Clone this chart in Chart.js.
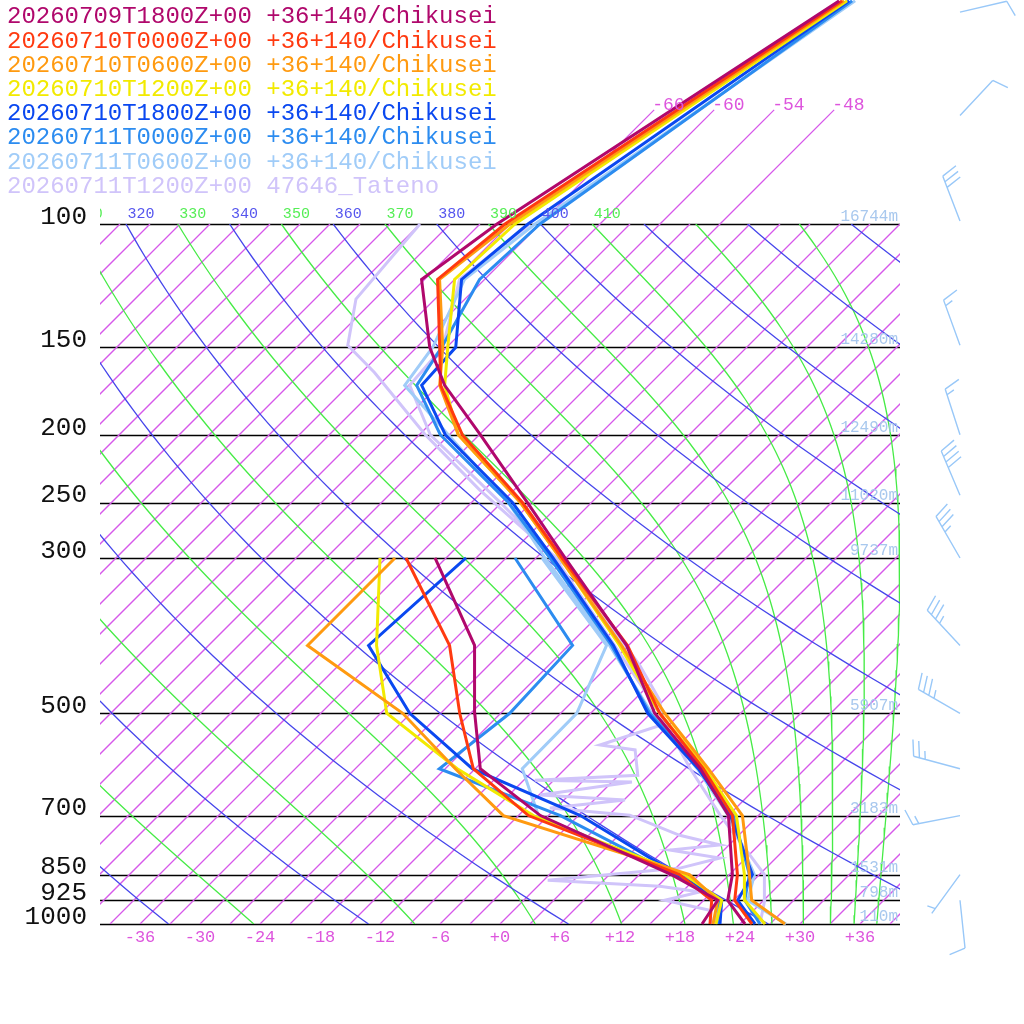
<!DOCTYPE html>
<html>
<head>
<meta charset="utf-8">
<script src="https://cdn.jsdelivr.net/npm/chart.js@4"></script>
<style>
  body { margin: 0; background: #fff; }
  #wrap { width: 1024px; height: 1024px; }
</style>
</head>
<body>
<div id="wrap"><canvas id="skewt" width="1024" height="1024"></canvas></div>
<script>
// ---- data ----
const seriesNames = [
  '20260709T1800Z+00 +36+140/Chikusei',
  '20260710T0000Z+00 +36+140/Chikusei',
  '20260710T0600Z+00 +36+140/Chikusei',
  '20260710T1200Z+00 +36+140/Chikusei',
  '20260710T1800Z+00 +36+140/Chikusei',
  '20260711T0000Z+00 +36+140/Chikusei',
  '20260711T0600Z+00 +36+140/Chikusei',
  '20260711T1200Z+00 47646_Tateno'
];
const seriesColors = ['#b0086c', '#ff3a10', '#ff9a10', '#f2ea00', '#0a48f0', '#2c8cf0', '#a0ccf8', '#d0c4fa'];

// temperature levels (hPa) and values (C)
const tempLevels = [1000, 925, 850, 700, 600, 500, 400, 300, 250, 200, 170, 150, 120, 100, 48];
const temps = [
  [24.5, 20.4, 18.3, 12.0, 4.5, -5.6, -15.2, -30.1, -39.4, -50.9, -59.4, -64.7, -72.3, -70.3, -58.4],
  [25.2, 21.1, 18.8, 12.4, 4.8, -5.1, -15.1, -30.4, -39.9, -52.7, -59.8, -63.7, -70.7, -69.5, -58.1],
  [28.5, 22.8, 20.0, 13.4, 5.3, -4.6, -15.7, -30.6, -40.1, -53.1, -59.9, -63.4, -70.5, -69.0, -57.9],
  [26.5, 22.1, 19.5, 12.8, 5.0, -5.1, -15.9, -30.6, -40.1, -53.1, -59.4, -62.9, -69.0, -68.5, -57.6],
  [25.5, 21.4, 20.3, 12.2, 4.3, -6.3, -16.5, -31.3, -40.9, -54.4, -61.7, -62.1, -68.3, -67.2, -57.4],
  [26.0, 22.1, 20.0, 12.5, 4.5, -6.1, -16.7, -31.6, -41.3, -54.9, -62.2, -63.5, -66.5, -66.0, -57.1],
  [28.6, 22.4, 20.5, 12.0, 4.2, -5.9, -16.9, -32.1, -41.3, -54.1, -63.4, -64.4, -68.0, -66.5, -56.8],
  [26.0, 24.1, 21.5, 11.2, 3.5, -5.1, -16.4, -31.1, -42.1, -55.9, -62.9, -63.4, -68.5, -67.0, null]
];

// dewpoint levels (hPa) and values (C) for the model series
const dewLevels = [1000, 925, 850, 700, 600, 500, 400, 300];
const dews = [
  [20.2, 19.4, 12.2, -6.8, -17.5, -23.6, -30.4, -43.1],
  [21.0, 18.8, 13.0, -8.0, -18.2, -25.1, -32.9, -46.0],
  [21.3, 19.4, 14.0, -10.5, -20.0, -30.8, -47.1, -47.1],
  [21.6, 19.8, 13.5, -7.5, -19.8, -32.4, -40.2, -48.6],
  [22.0, 19.8, 12.8, -2.8, -18.3, -30.1, -41.0, -40.0],
  [21.8, 19.6, 12.5, -4.8, -21.6, -20.1, -20.6, -35.1],
  [21.5, 19.4, 12.6, -7.0, -13.3, -13.4, -17.2, -32.4]
];
// Tateno observed dewpoint (own levels)
const tatenoDewLevels = [1000, 956, 925, 900, 883, 866, 832, 805, 784, 771, 747, 699, 683, 665, 654, 627, 623, 613, 564, 555, 519, 479, 427, 356, 312, 278, 240, 200, 163, 149, 128, 100];
const tatenoDews = [21.2, 19.6, 14.1, 16.8, 12.2, 0.4, 12.4, 15.4, 9.6, 14.1, 9.1, 2.1, -6.6, 0.1, -8.9, -1.0, -10.9, -1.1, -3.9, -7.9, -3.7, -6.4, -11.9, -21.4, -28.4, -35.9, -45.4, -56.4, -67.7, -73.1, -76.9, -78.0];

const pressureLevels = [100, 150, 200, 250, 300, 500, 700, 850, 925, 1000];
const heightLabels = ['16744m', '14280m', '12490m', '11020m', '9737m', '5907m', '3183m', '1531m', '798m', '110m'];
const tempTicks = [-36, -30, -24, -18, -12, -6, 0, 6, 12, 18, 24, 30, 36];
const dryThetas = [200, 220, 240, 260, 280, 300, 320, 340, 360, 380, 400, 420, 440, 460, 480, 500];
const moistThetas = [230, 250, 270, 290, 310, 330, 350, 370, 390, 410, 430, 450, 470, 490];
const isoTemps = [];
for (let t = -108; t <= 39; t += 3) isoTemps.push(t);
const isoLabelTemps = [-66, -60, -54, -48];

// wind barbs: pressure, direction of staff (deg), speed (kt)
const windLevels = [49.8, 70, 99, 149, 200, 244, 300, 400, 500, 600, 700, 850, 925];
const windDirs = [77, 43, 339, 340, 342, 337, 330, 317, 300, 285, 259, 216, 174];
const windSpeeds = [10, 10, 30, 15, 15, 40, 35, 35, 35, 25, 15, 5, 10];

// ---- helpers ----
const SKEW = 70;
const skewX = (t, p) => t + SKEW * Math.log10(1000 / p);
const profile = (levels, vals) => levels.map((p, i) => ({ x: vals[i] == null ? null : skewX(vals[i], p), y: p }));

function dryLine(theta) {
  const pts = [];
  for (let i = 0; i <= 60; i++) {
    const p = 1000 * Math.pow(0.1, i / 60);
    pts.push({ x: skewX(theta * Math.pow(p / 1000, 0.2857) - 273.15, p), y: p });
  }
  return pts;
}

function moistRate(T, p) {
  const Tc = T - 273.15;
  const es = 6.112 * Math.exp(17.67 * Tc / (Tc + 243.5));
  const rs = 0.622 * es / (p - es);
  const Rd = 287.04, cp = 1005.7, L = 2.501e6;
  return (Rd * T + L * rs) / (cp + L * L * rs * 0.622 / (Rd * T * T)); // dT/dlnp
}

function moistLine(thetaE) {
  let T = thetaE * Math.pow(0.1, 0.2857);
  let p = 100;
  const n = 80, dlnp = Math.log(10) / n;
  const pts = [{ x: skewX(T - 273.15, p), y: p }];
  for (let i = 0; i < n; i++) {
    const k1 = moistRate(T, p);
    const pm = p * Math.exp(dlnp / 2);
    const k2 = moistRate(T + k1 * dlnp / 2, pm);
    T += k2 * dlnp;
    p = p * Math.exp(dlnp);
    pts.push({ x: skewX(T - 273.15, p), y: p });
  }
  return pts;
}

// ---- datasets ----
const datasets = [];
const bg = (data, color) => ({
  data, borderColor: color, backgroundColor: color,
  borderWidth: 1.3, showLine: true, pointRadius: 0, order: 20, clip: 0
});
dryThetas.forEach(th => datasets.push(bg(dryLine(th), '#4646eb')));
moistThetas.forEach(th => datasets.push(bg(moistLine(th), '#46eb46')));

seriesNames.forEach((name, i) => {
  const line = (data) => ({ data, borderColor: seriesColors[i], backgroundColor: seriesColors[i], borderWidth: 3, showLine: true, pointRadius: 0, order: 1 + i * 0.01, clip: false, spanGaps: false });
  datasets.push(line(profile(tempLevels, temps[i])));
  if (i < dews.length) datasets.push(line(profile(dewLevels, dews[i])));
  else datasets.push(line(profile(tatenoDewLevels, tatenoDews)));
});

// ---- decorations drawn with the scales ----
const decor = {
  id: 'decor',
  beforeDatasetsDraw(chart) {
    const { ctx, scales: { x, y } } = chart;
    ctx.save();
    ctx.strokeStyle = '#000';
    ctx.lineWidth = 1.3;
    pressureLevels.forEach(p => {
      const py = Math.round(y.getPixelForValue(p)) + 0.5;
      ctx.beginPath(); ctx.moveTo(x.left, py); ctx.lineTo(x.right, py); ctx.stroke();
    });
    // isotherms
    ctx.strokeStyle = '#d658ea';
    ctx.lineWidth = 1.3;
    const seg = (t, p0, p1) => {
      ctx.beginPath();
      ctx.moveTo(x.getPixelForValue(skewX(t, p0)), y.getPixelForValue(p0));
      ctx.lineTo(x.getPixelForValue(skewX(t, p1)), y.getPixelForValue(p1));
      ctx.stroke();
    };
    isoLabelTemps.forEach(t => seg(t, 100, 68.7));
    ctx.beginPath(); ctx.rect(x.left, y.top, x.right - x.left, y.bottom - y.top); ctx.clip();
    isoTemps.forEach(t => seg(t, 1000, 100));
    ctx.restore();
  },
  afterDraw(chart) {
    const { ctx, scales: { x, y } } = chart;
    ctx.save();
    // pressure labels
    ctx.fillStyle = '#111';
    ctx.font = '26px "Liberation Mono", monospace';
    ctx.textAlign = 'right';
    ctx.textBaseline = 'middle';
    pressureLevels.forEach(p => ctx.fillText(String(p), 87, y.getPixelForValue(p) - 7));
    // heights
    ctx.fillStyle = '#a8c8ee';
    ctx.font = '16px "Liberation Mono", monospace';
    ctx.textBaseline = 'alphabetic';
    pressureLevels.forEach((p, i) => ctx.fillText(heightLabels[i], x.right - 2, y.getPixelForValue(p) - 3));
    // temperature ticks
    ctx.fillStyle = '#dd55dd';
    ctx.font = '17px "Liberation Mono", monospace';
    ctx.textAlign = 'center';
    ctx.textBaseline = 'middle';
    tempTicks.forEach(t => ctx.fillText((t < 0 ? '-' : '+') + Math.abs(t), x.getPixelForValue(t), y.bottom + 13));
    // isotherm labels above 100 hPa
    ctx.font = '18px "Liberation Mono", monospace';
    ctx.textAlign = 'left';
    ctx.textBaseline = 'alphabetic';
    isoLabelTemps.forEach(t => ctx.fillText(String(t), x.getPixelForValue(skewX(t, 68.7)) - 2, y.getPixelForValue(68.7)));
    // adiabat labels at 100 hPa
    ctx.save();
    ctx.beginPath(); ctx.rect(x.left, 0, x.right - x.left, y.top); ctx.clip();
    ctx.font = '15px "Liberation Mono", monospace';
    ctx.textAlign = 'center';
    const thetaLab = (th, color) => {
      const px = x.getPixelForValue(skewX(th * Math.pow(0.1, 0.2857) - 273.15, 100)) + 15;
      if (th <= 410) { ctx.fillStyle = color; ctx.fillText(String(th), px, y.top - 6); }
    };
    dryThetas.forEach(th => thetaLab(th, '#5555ee'));
    moistThetas.forEach(th => thetaLab(th, '#55ee55'));
    ctx.restore();
    // legend
    ctx.font = '24px "Liberation Mono", monospace';
    ctx.textAlign = 'left';
    ctx.textBaseline = 'middle';
    seriesNames.forEach((n, i) => { ctx.fillStyle = seriesColors[i]; ctx.fillText(n, 7, 17 + i * 24.2); });
    // wind barbs
    ctx.strokeStyle = '#99c8f8';
    ctx.lineWidth = 1.4;
    windLevels.forEach((p, i) => {
      const bx = 960, by = y.getPixelForValue(p);
      const a = windDirs[i] * Math.PI / 180;
      const ux = Math.sin(a), uy = -Math.cos(a);
      const vx = -uy, vy = ux;
      const L = 48;
      ctx.beginPath();
      ctx.moveTo(bx, by); ctx.lineTo(bx + ux * L, by + uy * L);
      let s = windSpeeds[i], d = L;
      while (s >= 10) {
        const sx = bx + ux * d, sy = by + uy * d;
        ctx.moveTo(sx, sy); ctx.lineTo(sx + vx * 16 + ux * 5, sy + vy * 16 + uy * 5);
        s -= 10; d -= 6;
      }
      if (s >= 5) {
        if (d === L) d -= 6;
        const sx = bx + ux * d, sy = by + uy * d;
        ctx.moveTo(sx, sy); ctx.lineTo(sx + vx * 8 + ux * 2.5, sy + vy * 8 + uy * 2.5);
      }
      ctx.stroke();
    });
    ctx.restore();
  }
};

new Chart(document.getElementById('skewt'), {
  type: 'scatter',
  data: { datasets },
  options: {
    responsive: false,
    animation: false,
    devicePixelRatio: 1,
    layout: { padding: { left: 100, right: 124, top: 224, bottom: 100 } },
    scales: {
      x: { type: 'linear', min: -40, max: 40, display: false },
      y: { type: 'logarithmic', min: 100, max: 1000, reverse: true, display: false }
    },
    plugins: { legend: { display: false }, tooltip: { enabled: false } }
  },
  plugins: [decor]
});
</script>
</body>
</html>
